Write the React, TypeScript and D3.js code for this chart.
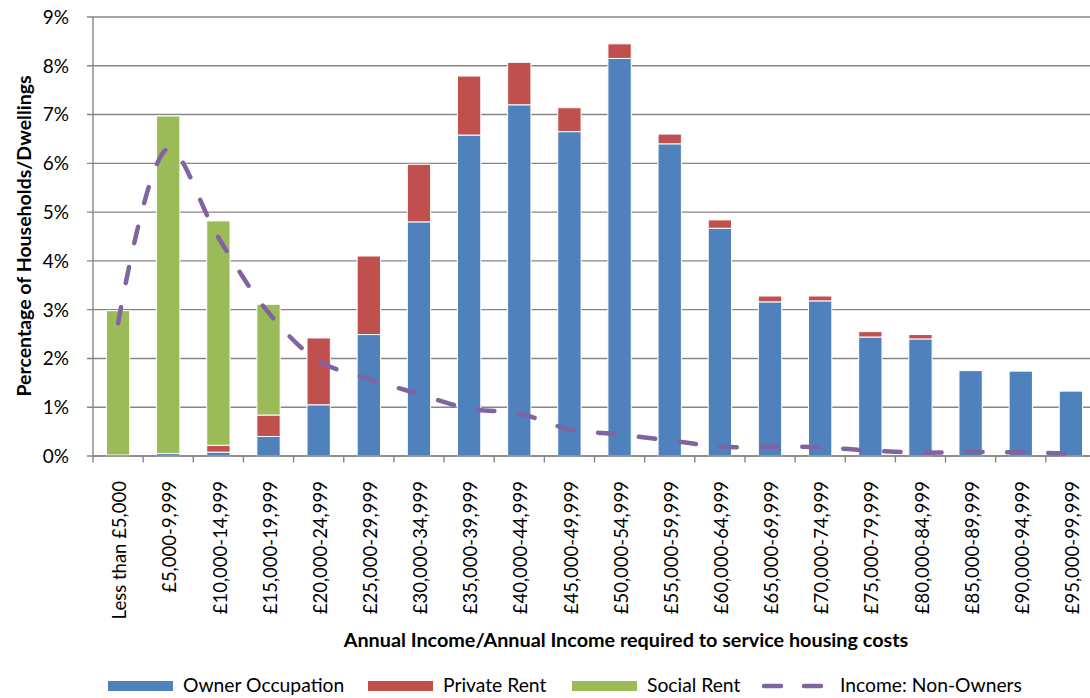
import React from "react";
import * as d3 from "d3";

const categories = [
  "Less than £5,000", "£5,000-9,999", "£10,000-14,999", "£15,000-19,999",
  "£20,000-24,999", "£25,000-29,999", "£30,000-34,999", "£35,000-39,999",
  "£40,000-44,999", "£45,000-49,999", "£50,000-54,999", "£55,000-59,999",
  "£60,000-64,999", "£65,000-69,999", "£70,000-74,999", "£75,000-79,999",
  "£80,000-84,999", "£85,000-89,999", "£90,000-94,999", "£95,000-99,999",
];
const ownerOccupation = [0.02, 0.05, 0.08, 0.40, 1.05, 2.49, 4.80, 6.58, 7.20, 6.65, 8.15, 6.40, 4.67, 3.16, 3.18, 2.44, 2.40, 1.75, 1.74, 1.33];
const privateRent = [0, 0, 0.14, 0.44, 1.37, 1.61, 1.18, 1.21, 0.87, 0.49, 0.30, 0.20, 0.17, 0.12, 0.10, 0.11, 0.09, 0, 0, 0];
const socialRent = [2.96, 6.92, 4.60, 2.27, 0, 0, 0, 0, 0, 0, 0, 0, 0, 0, 0, 0, 0, 0, 0, 0];
const incomeNonOwners = [2.72, 6.30, 4.48, 2.94, 1.95, 1.58, 1.27, 0.97, 0.87, 0.55, 0.44, 0.32, 0.19, 0.19, 0.18, 0.11, 0.07, 0.08, 0.075, 0.05];
const yTicks = [0, 1, 2, 3, 4, 5, 6, 7, 8, 9];

const seriesNames = ["Owner Occupation", "Private Rent", "Social Rent"];
const seriesColors = ["#4F81BD", "#C0504D", "#9BBB59"];
const lineName = "Income: Non-Owners";
const lineColor = "#8064A2";

const FONT = "Lato, 'Open Sans', sans-serif";

export default function App() {
  const W = 1090, H = 698;
  const left = 93, step = 50.15;
  const x = d3.scaleBand<string>()
    .domain(categories)
    .range([left, left + step * categories.length])
    .paddingInner(0.535)
    .paddingOuter(0.2675);
  const y = d3.scaleLinear().domain([0, 9]).range([456, 17]);

  const rows = categories.map((c, i) => ({
    cat: c,
    owner: ownerOccupation[i],
    priv: privateRent[i],
    social: socialRent[i],
  }));
  const stack = d3.stack<any>().keys(["owner", "priv", "social"]);
  const stacked = stack(rows);

  const line = d3.line<number>()
    .x((_, i) => (x(categories[i]) as number) + x.bandwidth() / 2)
    .y((d) => y(d))
    .curve(d3.curveCatmullRom.alpha(0.5));

  const gridColor = "#868686";
  const dash = "16.5 24.5";
  const [x0, x1] = x.range();

  return (
    <svg width={W} height={H} style={{ position: "absolute", left: 0, top: 0, background: "#fff" }}
      fontFamily={FONT}>
      {/* gridlines */}
      {yTicks.map((t) => (
        <line key={"g" + t} x1={87} x2={W} y1={y(t)} y2={y(t)} stroke={gridColor} strokeWidth={1.4} />
      ))}
      {/* y axis */}
      <line x1={left} x2={left} y1={y(9)} y2={y(0) + 0.7} stroke={gridColor} strokeWidth={1.4} />
      {yTicks.map((t) => (
        <text key={"yt" + t} x={69} y={y(t)} dy="0.36em" textAnchor="end" fontSize={19} fill="#000">
          {t + "%"}
        </text>
      ))}
      {/* bars */}
      {stacked.map((s, si) => (
        <g key={"s" + si} fill={seriesColors[si]}>
          {s.map((d, i) =>
            d[1] - d[0] > 0 ? (
              <rect key={i} x={x(categories[i])} width={x.bandwidth()} y={y(d[1])}
                height={y(d[0]) - y(d[1])} stroke="#fff" strokeWidth={1} />
            ) : null
          )}
        </g>
      ))}
      {/* x axis */}
      <line x1={x0} x2={x1} y1={y(0)} y2={y(0)} stroke={gridColor} strokeWidth={1.4} />
      {categories.map((c, i) => (
        <line key={"xt" + i} x1={x0 + i * step} x2={x0 + i * step} y1={y(0)} y2={y(0) + 6.5}
          stroke={gridColor} strokeWidth={1.4} />
      ))}
      {/* line */}
      <path d={line(incomeNonOwners) || ""} fill="none" stroke={lineColor} strokeWidth={4.5}
        strokeDasharray={dash} strokeLinecap="round" />
      {/* x tick labels */}
      {categories.map((c, i) => (
        <text key={"xl" + i} transform={`translate(${(x(c) as number) + x.bandwidth() / 2 + 1.5},481) rotate(-90)`}
          dy="0.36em" textAnchor="end" fontSize={18.5} fill="#000">
          {c}
        </text>
      ))}
      {/* axis titles */}
      <text x={626} y={647} textAnchor="middle" fontWeight="bold" fontSize={19.8} fill="#000">
        Annual Income/Annual Income required to service housing costs
      </text>
      <text transform="translate(31,236) rotate(-90)" textAnchor="middle" fontWeight="bold" fontSize={19.5} fill="#000">
        Percentage of Households/Dwellings
      </text>
      {/* legend */}
      {[108, 368, 572].map((lx, i) => (
        <g key={"lg" + i}>
          <rect x={lx} y={681} width={65} height={10} fill={seriesColors[i]} />
          <text x={lx + 75} y={692} fontSize={19.3} fill="#000">{seriesNames[i]}</text>
        </g>
      ))}
      <line x1={764} x2={822} y1={686} y2={686} stroke={lineColor} strokeWidth={4.5}
        strokeDasharray="17 23" strokeLinecap="round" />
      <text x={840} y={692} fontSize={19.3} fill="#000">{lineName}</text>
    </svg>
  );
}
